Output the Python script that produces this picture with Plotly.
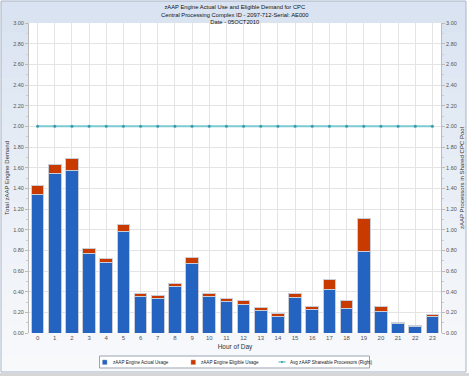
import plotly.graph_objects as go

hours = [str(h) for h in range(24)]
actual = [1.336, 1.543, 1.575, 0.770, 0.686, 0.985, 0.351, 0.335, 0.448, 0.673, 0.357, 0.303,
          0.280, 0.222, 0.158, 0.345, 0.232, 0.422, 0.235, 0.792, 0.206, 0.093, 0.061, 0.158]
total = [1.423, 1.630, 1.684, 0.818, 0.721, 1.050, 0.380, 0.367, 0.480, 0.731, 0.386, 0.335,
         0.316, 0.251, 0.184, 0.383, 0.258, 0.515, 0.312, 1.105, 0.258, 0.106, 0.077, 0.177]
eligible = [round(t - a, 3) for t, a in zip(total, actual)]
shareable = [2.0] * 24

series_names = ["zAAP Engine Actual Usage", "zAAP Engine Eligible Usage",
                "Avg zAAP Shareable Processors (Right)"]
title_lines = ["zAAP Engine Actual Use and Eligible Demand for CPC",
               "Central Processing Complex ID - 2097-712-Serial: AE000",
               "Date - 05OCT2010"]

FONT = "Liberation Sans, Arial, sans-serif"
BLUE, RED, TEAL, TEAL_M = "#2563c0", "#c83a00", "#7ccad2", "#3a9cab"

W, H = 469, 376
ML, MR, MT, MB = 29, 28, 23, 43
PW, PH = W - ML - MR, H - MT - MB


def px(x):
    return (x - ML) / PW


def py(y):
    return (H - MB - y) / PH


fig = go.Figure()
fig.add_trace(go.Bar(x=hours, y=actual, name=series_names[0],
                     marker=dict(color=BLUE, line=dict(color="#c8cdd8", width=1)),
                     width=0.74))
fig.add_trace(go.Bar(x=hours, y=eligible, name=series_names[1],
                     marker=dict(color=RED, line=dict(color="#c8cdd8", width=1)),
                     width=0.74))
fig.add_trace(go.Scatter(x=hours, y=shareable, name=series_names[2],
                         yaxis="y2", mode="lines+markers",
                         line=dict(color=TEAL, width=2),
                         marker=dict(color=TEAL_M, size=3)))

tickvals = [round(i * 0.2, 1) for i in range(16)]
ticktext = ["%.2f" % v for v in tickvals]

shapes = []
# background gradient (light blue top -> near white bottom) inside frame
top_c = (217, 227, 241)
bot_c = (248, 249, 251)
n = 24
fy0, fy1 = 1, 372
for i in range(n):
    t = i / (n - 1)
    c = tuple(round(top_c[k] + (bot_c[k] - top_c[k]) * t) for k in range(3))
    ya = fy0 + (fy1 - fy0) * i / n
    yb = fy0 + (fy1 - fy0) * (i + 1) / n + 0.5
    shapes.append(dict(type="rect", xref="paper", yref="paper", x0=px(1), x1=px(466),
                       y0=py(yb), y1=py(ya), line=dict(width=0),
                       fillcolor="rgb(%d,%d,%d)" % c, layer="below"))
# frame
shapes.append(dict(type="rect", xref="paper", yref="paper", x0=px(1), x1=px(466),
                   y0=py(372), y1=py(1), line=dict(color="#a9b4c6", width=1), layer="below"))
# bottom gray strip
shapes.append(dict(type="rect", xref="paper", yref="paper", x0=px(0), x1=px(469),
                   y0=py(376), y1=py(373), line=dict(width=0), fillcolor="#d6d6d6", layer="below"))
# plot area white
shapes.append(dict(type="rect", xref="paper", yref="paper", x0=0, x1=1, y0=0, y1=1,
                   line=dict(width=0), fillcolor="white", layer="below"))
# legend box
shapes.append(dict(type="rect", xref="paper", yref="paper", x0=px(99.5), x1=px(369.5),
                   y0=py(368), y1=py(356), line=dict(color="#9aa3b3", width=1),
                   fillcolor="white", layer="above"))
shapes.append(dict(type="rect", xref="paper", yref="paper", x0=px(102.5), x1=px(107),
                   y0=py(364.5), y1=py(360), line=dict(color="#8aa0c8", width=0.5),
                   fillcolor=BLUE, layer="above"))
shapes.append(dict(type="rect", xref="paper", yref="paper", x0=px(191), x1=px(195.5),
                   y0=py(364.5), y1=py(360), line=dict(color="#c89080", width=0.5),
                   fillcolor=RED, layer="above"))
shapes.append(dict(type="line", xref="paper", yref="paper", x0=px(278.5), x1=px(285.5),
                   y0=py(362), y1=py(362), line=dict(color=TEAL, width=1.5), layer="above"))
shapes.append(dict(type="circle", xref="paper", yref="paper", x0=px(281), x1=px(283),
                   y0=py(363), y1=py(361), line=dict(width=0), fillcolor=TEAL_M, layer="above"))

annotations = [dict(text="<br>".join(title_lines), x=0.5, xref="paper", y=py(2.5), yref="paper",
                    yanchor="top", xanchor="center", showarrow=False,
                    font=dict(size=5.8, color="#111111", family=FONT))]
for name, xpos in zip(series_names, [110.5, 198.5, 287.5]):
    annotations.append(dict(text=name, x=px(xpos), y=py(362.3), xref="paper", yref="paper",
                            xanchor="left", yanchor="middle", showarrow=False,
                            font=dict(size=4.6, color="#222222", family=FONT)))

fig.update_layout(
    width=W, height=H,
    barmode="stack", bargap=0.26,
    paper_bgcolor="white", plot_bgcolor="rgba(0,0,0,0)",
    margin=dict(l=ML, r=MR, t=MT, b=MB, autoexpand=False),
    font=dict(family=FONT, size=6, color="#333333"),
    showlegend=False,
    xaxis=dict(title=dict(text="Hour of Day", font=dict(size=6.5), standoff=4),
               showgrid=True, gridcolor="#e4e4e4", gridwidth=1, automargin=False,
               tickfont=dict(size=6, color="#555555"), ticks="", showline=False,
               range=[-0.5, 23.5], zeroline=False),
    yaxis=dict(title=dict(text="Total zAAP Engine Demand", font=dict(size=6), standoff=3),
               range=[0, 3], tickvals=tickvals, ticktext=ticktext, automargin=False,
               showgrid=True, gridcolor="#e4e4e4", tickfont=dict(size=5.5, color="#555555"),
               ticks="outside", ticklen=3, tickcolor="#bbbbbb",
               showline=True, linecolor="#bbbbbb", zeroline=False,
               minor=dict(ticks="outside", ticklen=2, dtick=0.1, tickcolor="#cccccc")),
    yaxis2=dict(title=dict(text="zAAP Processors in Shared CPC Pool", font=dict(size=6), standoff=3),
                overlaying="y", side="right", range=[0, 3], tickvals=tickvals, ticktext=ticktext,
                showgrid=False, tickfont=dict(size=5.5, color="#555555"), automargin=False,
                ticks="outside", ticklen=3, tickcolor="#bbbbbb",
                showline=True, linecolor="#bbbbbb", zeroline=False,
                minor=dict(ticks="outside", ticklen=2, dtick=0.1, tickcolor="#cccccc")),
    annotations=annotations,
    shapes=shapes,
)
fig.write_html("out.html", config={"displayModeBar": False},
               post_script="document.body.style.margin='0';document.body.style.overflow='hidden';")
